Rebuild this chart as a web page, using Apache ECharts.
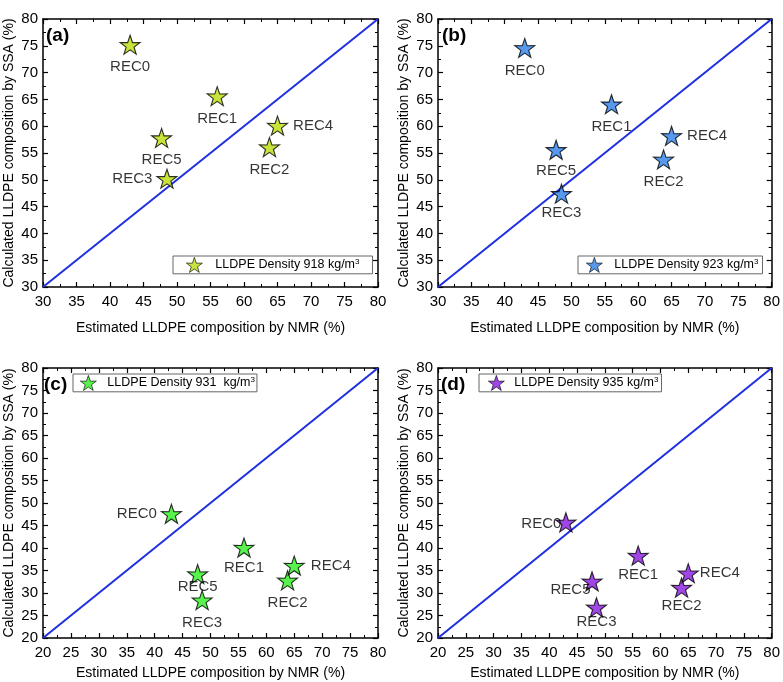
<!DOCTYPE html>
<html>
<head>
<meta charset="utf-8">
<script src="https://cdn.jsdelivr.net/npm/echarts@6/dist/echarts.min.js"></script>
<style>
  html, body { margin: 0; padding: 0; background: #fff; }
  #chart { width: 783px; height: 682px; }
</style>
</head>
<body>
<div id="chart"></div>
<script>
// sample names, same order in every panel
const samples = ["REC0", "REC1", "REC2", "REC3", "REC4", "REC5"];
// estimated by NMR (%)
const nmr = [43, 56, 63.8, 48.5, 65, 47.7];
// calculated by SSA (%) for each density
const ssa918 = [75.2, 65.6, 56.1, 50.2, 60.1, 57.8];
const ssa923 = [74.6, 64.1, 53.8, 47.4, 58.2, 55.6];
const ssa931 = [47.6, 40.1, 32.8, 28.4, 36.1, 34.2];
const ssa935 = [45.7, 38.3, 31.2, 26.8, 34.4, 32.6];
const densityNames = [
  "LLDPE Density 918 kg/m³",
  "LLDPE Density 923 kg/m³",
  "LLDPE Density 931  kg/m³",
  "LLDPE Density 935 kg/m³"
];
const panelTags = ["(a)", "(b)", "(c)", "(d)"];
const axisMin = [30, 30, 20, 20];
const axisMax = 80;

// looks
const starPath = "path://M50,0 L61.8,35.1 L98.1,34.5 L69,56.7 L79.4,90.5 L50,70 L20.6,90.5 L31,56.7 L1.9,34.5 L38.2,35.1 Z";
const fills = ["#bcdc0c", "#2c80e8", "#30f020", "#8a18e0"];
// label placement per point: [position, distance, offset]
const labelPos = [
  [["bottom", 5], ["bottom", 5], ["bottom", 5], ["left", 4], ["right", 5], ["bottom", 4]],
  [["bottom", 5], ["bottom", 5], ["bottom", 5], ["bottom", 2], ["right", 5], ["bottom", 4]],
  [["left", 4], ["bottom", 3], ["bottom", 5], ["bottom", 5], ["right", 6], ["bottom", -5]],
  [["left", 4, [10, 2]], ["bottom", 2], ["bottom", 1], ["bottom", -3], ["right", 1], ["left", 3, [12, 9]]]
];
const grids = [
  { left: 43, right: 405, top: 19, bottom: 395 },
  { left: 438, right: 9, top: 19, bottom: 395 },
  { left: 43, right: 405, top: 368, bottom: 44 },
  { left: 438, right: 9, top: 368, bottom: 44 }
];
// legend box: position and inner paddings [box, text]
const legendPos = [
  { left: 173, top: 256, padding: [1, 13, 1, 13], tp: 8 },
  { left: 578, top: 256, padding: [1, 4, 1, 8], tp: 7 },
  { left: 73, top: 374, padding: [1, 2, 1, 7], tp: 6 },
  { left: 479, top: 374, padding: [1, 3, 1, 9], tp: 5 }
];
const tagPos = [
  { left: 46, top: 26 },
  { left: 442, top: 26 },
  { left: 44, top: 375 },
  { left: 441, top: 375 }
];
const allSsa = [ssa918, ssa923, ssa931, ssa935];
const font = "Liberation Sans, Arial, sans-serif";

const xAxes = [], yAxes = [], series = [], legends = [], titles = [];

grids.forEach(function (g, i) {
  const bottomPanel = i >= 2;
  const base = {
    gridIndex: i, type: "value", min: axisMin[i], max: axisMax, interval: 5,
    axisLine: { show: true, onZero: false, lineStyle: { color: "#000", width: 1.5 } },
    axisTick: { show: true, inside: true, length: 5, lineStyle: { color: "#000", width: 1.2 } },
    minorTick: { show: true, splitNumber: 2, length: 3, lineStyle: { color: "#000", width: 1 } },
    splitLine: { show: false }
  };
  xAxes.push(Object.assign({}, base, {
    position: "bottom",
    name: "Estimated LLDPE composition by NMR (%)",
    nameLocation: "middle", nameGap: bottomPanel ? 28 : 34,
    nameTextStyle: { fontSize: 14, color: "#000", fontFamily: font },
    axisLabel: { fontSize: 15, color: "#000", margin: 7, fontFamily: font }
  }));
  xAxes.push(Object.assign({}, base, { position: "top", axisLabel: { show: false } }));
  yAxes.push(Object.assign({}, base, {
    position: "left",
    name: "Calculated LLDPE composition by SSA (%)",
    nameLocation: "middle", nameGap: 27,
    nameTextStyle: { fontSize: 14, color: "#000", fontFamily: font },
    axisLabel: { fontSize: 15, color: "#000", margin: 5, fontFamily: font }
  }));
  yAxes.push(Object.assign({}, base, { position: "right", axisLabel: { show: false } }));

  series.push({
    type: "line", xAxisIndex: i * 2, yAxisIndex: i * 2,
    data: [[axisMin[i], axisMin[i]], [axisMax, axisMax]],
    symbol: "none", silent: true,
    lineStyle: { color: "#1f2fe0", width: 2 }, z: 1
  });
  series.push({
    type: "scatter", name: densityNames[i], xAxisIndex: i * 2, yAxisIndex: i * 2,
    symbol: starPath, symbolSize: [20, 19],
    itemStyle: { color: fills[i], borderColor: "#000", borderWidth: 1.1 },
    data: samples.map(function (s, k) {
      const lp = labelPos[i][k];
      return {
        value: [nmr[k], allSsa[i][k]], name: s,
        label: { position: lp[0], distance: lp[1], offset: lp[2] || [0, 0] }
      };
    }),
    label: {
      show: true, formatter: "{b}", fontSize: 15, color: "#000", fontFamily: font
    },
    z: 3
  });

  const lg = legendPos[i];
  legends.push({
    left: lg.left, top: lg.top, padding: lg.padding,
    data: [densityNames[i]], orient: "horizontal",
    icon: starPath, itemWidth: 16, itemHeight: 15, itemGap: 4,
    itemStyle: { borderColor: "#000", borderWidth: 0.8 },
    borderColor: "#666", borderWidth: 1,
    formatter: function (n) { return n.replace("³", "{sup|3}"); },
    textStyle: {
      fontSize: 12.5, color: "#000", fontFamily: font, padding: [0, 0, 0, lg.tp],
      rich: { sup: { fontSize: 8, verticalAlign: "top", padding: [0, 0, 7, 0], color: "#000" } }
    }
  });

  titles.push(Object.assign({
    text: panelTags[i],
    textStyle: { fontSize: 19, fontWeight: "bold", color: "#000", fontFamily: font },
    padding: 0
  }, tagPos[i]));
});

const chart = echarts.init(document.getElementById("chart"));
chart.setOption({
  backgroundColor: "#fff",
  animation: false,
  title: titles,
  legend: legends,
  grid: grids,
  xAxis: xAxes,
  yAxis: yAxes,
  series: series
});
</script>
</body>
</html>
